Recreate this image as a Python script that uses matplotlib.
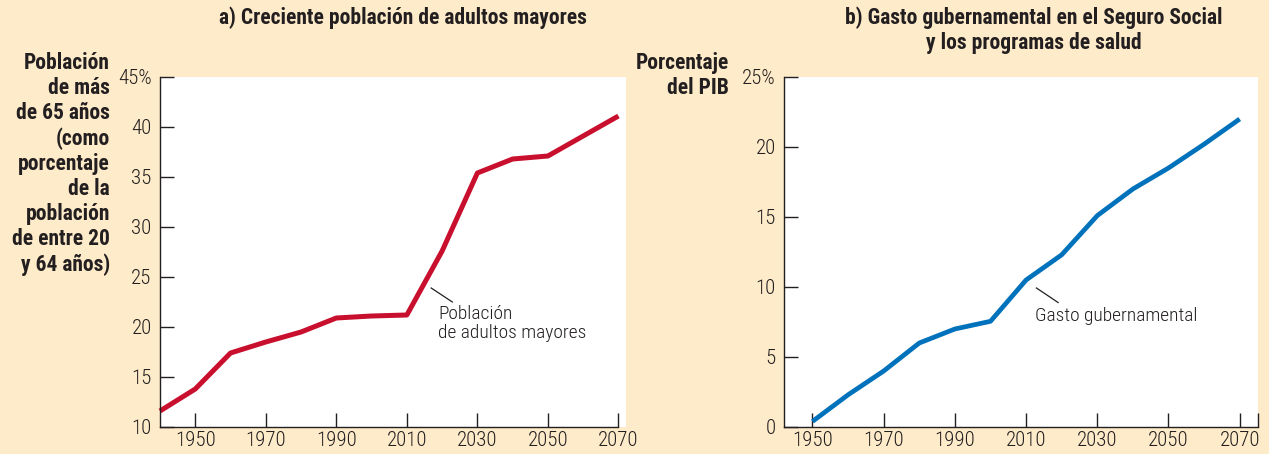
import matplotlib
matplotlib.use("Agg")
import matplotlib.pyplot as plt
from matplotlib.ticker import FixedLocator

# ---------------------------------------------------------
# data
years = [1940, 1950, 1960, 1970, 1980, 1990, 2000, 2010,
         2020, 2030, 2040, 2050, 2060, 2070]
elderly_share = [11.6, 13.8, 17.4, 18.5, 19.5, 20.9, 21.1, 21.2,
                 27.6, 35.4, 36.8, 37.1, 39.1, 41.1]

spend_years = [1950, 1960, 1970, 1980, 1990, 2000, 2010,
               2020, 2030, 2040, 2050, 2060, 2070]
gov_spending = [0.4, 2.3, 4.0, 6.0, 7.0, 7.55, 10.5,
                12.3, 15.1, 17.0, 18.5, 20.2, 22.0]

year_ticks = [1950, 1970, 1990, 2010, 2030, 2050, 2070]
left_yticks = [10, 15, 20, 25, 30, 35, 40, 45]
left_ylabels = ["10", "15", "20", "25", "30", "35", "40", "45%"]
right_yticks = [0, 5, 10, 15, 20, 25]
right_ylabels = ["0", "5", "10", "15", "20", "25%"]

title_a = "a) Creciente población de adultos mayores"
title_b = "b) Gasto gubernamental en el Seguro Social\ny los programas de salud"
ylabel_a = ("Población\nde más\nde 65 años\n(como\nporcentaje\nde la\n"
            "población\nde entre 20\ny 64 años)")
ylabel_b = "Porcentaje\ndel PIB"
note_a = "Población\nde adultos mayores"
note_b = "Gasto gubernamental"

# ---------------------------------------------------------
# style
cream = "#FEEBC9"
ink = "#231F20"
red = "#C8102E"
blue = "#0072BC"
font = ["Roboto Condensed", "Liberation Sans Narrow", "Roboto", "DejaVu Sans"]

plt.rcParams["font.family"] = font
plt.rcParams["text.color"] = ink

fig = plt.figure(figsize=(12.69, 4.54), dpi=100)
fig.patch.set_facecolor(cream)

ax1 = fig.add_axes([160 / 1269, 27 / 454, 465.5 / 1269, 350 / 454])
ax2 = fig.add_axes([784 / 1269, 27 / 454, 473.5 / 1269, 350 / 454])


def style_axes(ax):
    ax.set_facecolor("white")
    for side in ["top", "right"]:
        ax.spines[side].set_visible(False)
    for side in ["left", "bottom"]:
        ax.spines[side].set_color(ink)
        ax.spines[side].set_linewidth(1.0)
    ax.tick_params(direction="in", length=10, width=1.0, color=ink,
                   labelsize=15, labelcolor=ink)
    ax.tick_params(axis="y", pad=6)
    ax.tick_params(axis="x", pad=3)
    for lab in ax.get_xticklabels() + ax.get_yticklabels():
        lab.set_fontweight("light")


# ---------------------------------------------------------
# panel a
ax1.plot(years, elderly_share, color=red, linewidth=3.6,
         solid_capstyle="butt", clip_on=False)
ax1.set_xlim(1940, 2072)
ax1.set_ylim(10, 45)
ax1.spines["bottom"].set_bounds(1940, 2070)
ax1.set_xticks(year_ticks)
ax1.set_yticks(left_yticks)
ax1.set_yticklabels(left_ylabels)
style_axes(ax1)
ax1.plot([2016.9, 2022.9], [23.9, 22.5], color=ink, linewidth=0.9)
ax1.text(2018.9, 22.2, note_a, fontsize=14, fontweight="light",
         va="top", ha="left", linespacing=1.1)

# ---------------------------------------------------------
# panel b
ax2.plot(spend_years, gov_spending, color=blue, linewidth=3.4,
         solid_capstyle="butt", clip_on=False)
ax2.set_xlim(1942, 2075)
ax2.set_ylim(0, 25)
ax2.set_xticks(year_ticks)
ax2.xaxis.set_minor_locator(FixedLocator([2075]))
ax2.set_yticks(right_yticks)
ax2.set_yticklabels(right_ylabels)
style_axes(ax2)
ax2.tick_params(axis="x", which="minor", direction="in", length=10,
                width=1.0, color=ink)
ax2.plot([2012.9, 2019.0], [9.93, 8.89], color=ink, linewidth=0.9)
ax2.text(2012.6, 8.6, note_b, fontsize=14, fontweight="light",
         va="top", ha="left")

# ---------------------------------------------------------
# titles and axis captions
fig.text(403 / 1269, 1 - 18 / 454, title_a, fontsize=15.5,
         fontweight="bold", ha="center", va="center")
fig.text(1034 / 1269, 1 - 6 / 454, title_b, fontsize=15.5,
         fontweight="bold", ha="center", va="top", linespacing=1.22)
fig.text(110 / 1269, 1 - 52 / 454, ylabel_a, fontsize=15.5,
         fontweight="bold", ha="right", va="top", multialignment="right",
         linespacing=1.18)
fig.text(729 / 1269, 1 - 52 / 454, ylabel_b, fontsize=15.5,
         fontweight="bold", ha="right", va="top", multialignment="right",
         linespacing=1.18)

fig.savefig("out.png", dpi=100, facecolor=cream)
